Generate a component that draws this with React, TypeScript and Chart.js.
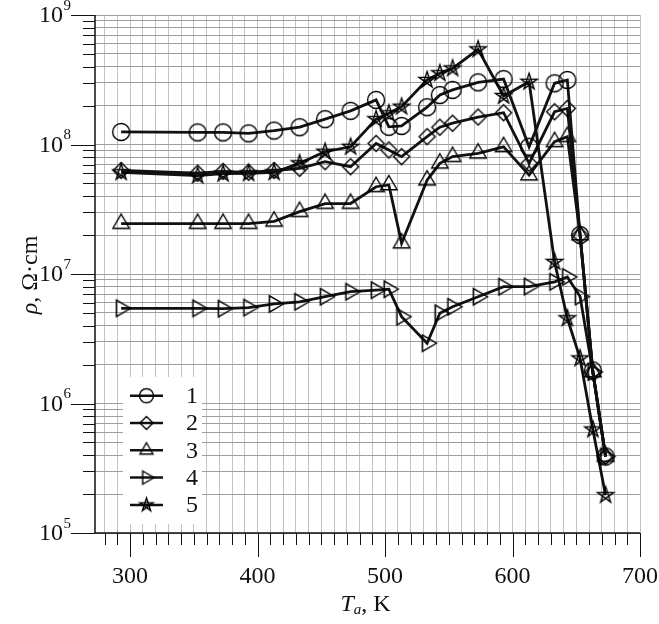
import React, { useEffect, useRef } from 'react';
import { Chart, registerables } from 'chart.js';

Chart.register(...registerables);

// ---------- data ----------
const temps = [293, 353, 373, 393, 413, 433, 453, 473, 493, 503, 513, 533, 543, 553, 573, 593, 613, 633, 643, 653, 663, 673];
const series1 = [1.25e8, 1.24e8, 1.24e8, 1.22e8, 1.28e8, 1.36e8, 1.57e8, 1.82e8, 2.21e8, 1.37e8, 1.39e8, 1.94e8, 2.41e8, 2.64e8, 3.02e8, 3.2e8, 9.6e7, 2.97e8, 3.15e8, 2.0e7, 1.8e6, 3.9e5];
const series2 = [6.3e7, 6.0e7, 6.2e7, 6.1e7, 6.3e7, 6.55e7, 7.37e7, 6.74e7, 1.02e8, 9.07e7, 8.06e7, 1.15e8, 1.36e8, 1.46e8, 1.63e8, 1.76e8, 7.16e7, 1.79e8, 1.9e8, 2.0e7, 1.75e6, 3.9e5];
const series3 = [2.45e7, 2.45e7, 2.45e7, 2.45e7, 2.55e7, 3.03e7, 3.5e7, 3.5e7, 4.72e7, 4.87e7, 1.73e7, 5.3e7, 7.16e7, 8.06e7, 8.55e7, 9.6e7, 5.8e7, 1.05e8, 1.15e8, 2.0e7, 1.75e6, 3.9e5];
const series4 = [5.43e6, 5.43e6, 5.4e6, 5.5e6, 5.87e6, 6.1e6, 6.68e6, 7.3e6, 7.5e6, 7.63e6, 4.68e6, 2.92e6, 4.98e6, 5.58e6, 6.68e6, 7.98e6, 8.0e6, 8.7e6, 9.5e6, 6.7e6, 1.75e6, 3.9e5];
const series5 = [6.1e7, 5.75e7, 5.95e7, 6.0e7, 6.1e7, 7.16e7, 8.8e7, 9.6e7, 1.57e8, 1.74e8, 1.96e8, 3.15e8, 3.55e8, 3.87e8, 5.43e8, 2.37e8, 3.05e8, 1.24e7, 4.55e6, 2.23e6, 6.3e5, 1.96e5];

const seriesLabels = ['1', '2', '3', '4', '5'];
const markerKinds = ['circle', 'diamond', 'triangle', 'triangleRight', 'star'];
const xTickLabels = [300, 400, 500, 600, 700];
const yDecades = [5, 6, 7, 8, 9];
const xMin = 272.5;
const xMax = 700;

const FONT = '"Liberation Serif", "Times New Roman", Times, serif';

// ---------- markers ----------
function makeMarker(kind: string, r: number, lw: number): HTMLCanvasElement {
  const size = Math.ceil(r * 2 + lw * 2 + 4);
  const c = document.createElement('canvas');
  c.width = size;
  c.height = size;
  const ctx = c.getContext('2d')!;
  ctx.translate(size / 2, size / 2);
  ctx.strokeStyle = '#000';
  ctx.lineWidth = lw;
  ctx.lineJoin = 'miter';
  ctx.beginPath();
  if (kind === 'circle') {
    ctx.arc(0, 0, r, 0, Math.PI * 2);
  } else if (kind === 'diamond') {
    ctx.moveTo(0, -r);
    ctx.lineTo(r, 0);
    ctx.lineTo(0, r);
    ctx.lineTo(-r, 0);
    ctx.closePath();
  } else if (kind === 'triangle') {
    ctx.moveTo(0, -r);
    ctx.lineTo(r * 0.866, r * 0.5);
    ctx.lineTo(-r * 0.866, r * 0.5);
    ctx.closePath();
  } else if (kind === 'triangleRight') {
    ctx.moveTo(r, 0);
    ctx.lineTo(-r * 0.5, r * 0.866);
    ctx.lineTo(-r * 0.5, -r * 0.866);
    ctx.closePath();
  } else if (kind === 'star') {
    for (let i = 0; i < 5; i++) {
      const a = (-90 + 144 * i) * Math.PI / 180;
      const px = r * Math.cos(a);
      const py = r * Math.sin(a);
      if (i === 0) ctx.moveTo(px, py);
      else ctx.lineTo(px, py);
    }
    ctx.closePath();
  }
  ctx.stroke();
  return c;
}

const plotMarkerSize: Record<string, number> = { circle: 8.5, diamond: 8, triangle: 9.5, triangleRight: 9.5, star: 8.5 };
const legendMarkerSize: Record<string, number> = { circle: 7, diamond: 6.5, triangle: 7.5, triangleRight: 7.5, star: 7 };

function drawPieces(ctx: CanvasRenderingContext2D, pieces: { t: string; f: string; dy: number }[], cx: number, cy: number) {
  let total = 0;
  const widths = pieces.map((p) => {
    ctx.font = p.f;
    const w = ctx.measureText(p.t).width;
    total += w;
    return w;
  });
  let x = cx - total / 2;
  ctx.textAlign = 'left';
  ctx.textBaseline = 'middle';
  pieces.forEach((p, i) => {
    ctx.font = p.f;
    ctx.fillText(p.t, x, cy + p.dy);
    x += widths[i];
  });
}

export default function App() {
  const ref = useRef<HTMLCanvasElement | null>(null);

  useEffect(() => {
    if (!ref.current) return;
    const allSeries = [series1, series2, series3, series4, series5];
    const plotMarkers = markerKinds.map((k) => makeMarker(k, plotMarkerSize[k], 1.4));
    const legendMarkers = markerKinds.map((k) => makeMarker(k, legendMarkerSize[k], 1.4));

    const datasets = allSeries.map((s, i) => ({
      label: seriesLabels[i],
      data: temps.map((t, j) => ({ x: t, y: s[j] })),
      borderColor: '#111',
      borderWidth: 2.8,
      backgroundColor: 'rgba(0,0,0,0)',
      pointStyle: plotMarkers[i] as any,
      pointRadius: 8,
      pointBorderColor: '#111',
      pointBackgroundColor: 'rgba(0,0,0,0)',
      tension: 0,
      fill: false,
    }));

    const decorPlugin = {
      id: 'decor',
      afterDraw(chart: any) {
        const { ctx, chartArea: a } = chart;
        const xs = chart.scales.x;
        const ys = chart.scales.y;
        ctx.save();

        // legend box
        const lx = a.left + 28;
        const ly = a.top + 362;
        ctx.fillStyle = '#ffffff';
        ctx.fillRect(lx, ly, 79, 147);
        seriesLabels.forEach((lab, i) => {
          const cy = a.top + 380.7 + i * 27.3;
          ctx.strokeStyle = '#111';
          ctx.lineWidth = 2.5;
          ctx.beginPath();
          ctx.moveTo(a.left + 35, cy);
          ctx.lineTo(a.left + 68, cy);
          ctx.stroke();
          const m = legendMarkers[i];
          ctx.drawImage(m, a.left + 51.5 - m.width / 2, cy - m.height / 2);
          ctx.fillStyle = '#111';
          ctx.font = '24px ' + FONT;
          ctx.textAlign = 'left';
          ctx.textBaseline = 'middle';
          ctx.fillText(lab, a.left + 91, cy + 1);
        });

        // axis lines
        ctx.strokeStyle = '#111';
        ctx.lineWidth = 1.5;
        ctx.beginPath();
        ctx.moveTo(a.left, a.top);
        ctx.lineTo(a.left, a.bottom);
        ctx.lineTo(a.right, a.bottom);
        ctx.stroke();

        // x ticks
        ctx.lineWidth = 1;
        for (let v = 280; v <= 700; v += 10) {
          const px = Math.round(xs.getPixelForValue(v)) + 0.5;
          const len = v % 100 === 0 ? 24 : 12;
          ctx.beginPath();
          ctx.moveTo(px, a.bottom);
          ctx.lineTo(px, a.bottom + len);
          ctx.stroke();
        }
        ctx.fillStyle = '#111';
        ctx.font = '24px ' + FONT;
        ctx.textAlign = 'center';
        ctx.textBaseline = 'middle';
        xTickLabels.forEach((v) => {
          ctx.fillText(String(v), xs.getPixelForValue(v), a.bottom + 44);
        });

        // y ticks
        yDecades.forEach((n) => {
          for (let k = 1; k <= 9; k++) {
            const v = k * Math.pow(10, n);
            const py = Math.round(ys.getPixelForValue(v)) + 0.5;
            const len = k === 1 ? 24 : 12;
            ctx.beginPath();
            ctx.moveTo(a.left - len, py);
            ctx.lineTo(a.left, py);
            ctx.stroke();
            if (n === 9) break;
          }
          const py = ys.getPixelForValue(Math.pow(10, n));
          ctx.textBaseline = 'middle';
          ctx.textAlign = 'right';
          ctx.font = '15px ' + FONT;
          const sup = String(n);
          const sw = ctx.measureText(sup).width;
          const rx = a.left - 24;
          ctx.fillText(sup, rx, py - 9);
          ctx.font = '24px ' + FONT;
          ctx.fillText('10', rx - sw - 0.5, py + 1);
        });

        // axis titles
        ctx.fillStyle = '#111';
        drawPieces(ctx, [
          { t: 'T', f: 'italic 24px ' + FONT, dy: 0 },
          { t: 'a', f: 'italic 15px ' + FONT, dy: 5 },
          { t: ', K', f: '24px ' + FONT, dy: 0 },
        ], (a.left + a.right) / 2 - 2, a.bottom + 72);

        ctx.save();
        ctx.translate(a.left - 64, (a.top + a.bottom) / 2 + 1);
        ctx.rotate(-Math.PI / 2);
        drawPieces(ctx, [
          { t: 'ρ', f: 'italic 24px ' + FONT, dy: 0 },
          { t: ', Ω·cm', f: '24px ' + FONT, dy: 0 },
        ], 0, 0);
        ctx.restore();

        ctx.restore();
      },
    };

    const chart = new Chart(ref.current, {
      type: 'line',
      data: { datasets: datasets as any },
      options: {
        animation: false,
        responsive: false,
        maintainAspectRatio: false,
        layout: { padding: { top: 15, right: 19, left: 0, bottom: 0 } },
        plugins: {
          legend: { display: false },
          tooltip: { enabled: false },
        },
        scales: {
          x: {
            type: 'linear',
            min: xMin,
            max: xMax,
            afterBuildTicks: (scale: any) => {
              const t: any[] = [];
              for (let v = 280; v <= 700; v += 10) t.push({ value: v });
              scale.ticks = t;
            },
            afterFit: (scale: any) => {
              scale.height = 91;
            },
            ticks: { display: false },
            grid: { color: '#c2c2c2', lineWidth: 1, drawTicks: false },
            border: { display: false },
          },
          y: {
            type: 'logarithmic',
            min: 1e5,
            max: 1e9,
            afterBuildTicks: (scale: any) => {
              const t: any[] = [];
              for (let n = 5; n <= 8; n++) {
                for (let k = 1; k <= 9; k++) t.push({ value: k * Math.pow(10, n) });
              }
              t.push({ value: 1e9 });
              scale.ticks = t;
            },
            afterFit: (scale: any) => {
              scale.width = 95;
            },
            ticks: { display: false },
            grid: { color: '#9e9e9e', lineWidth: 1, drawTicks: false },
            border: { display: false },
          },
        },
      },
      plugins: [decorPlugin],
    });

    let alive = true;
    const fonts: any = (document as any).fonts;
    if (fonts && fonts.load) {
      Promise.all([
        fonts.load('24px "Liberation Serif"'),
        fonts.load('italic 24px "Liberation Serif"'),
      ]).then(() => {
        if (alive) chart.update();
      }).catch(() => {});
    }

    return () => {
      alive = false;
      chart.destroy();
    };
  }, []);

  return (
    <div style={{ position: 'absolute', left: 0, top: 0, width: 659, height: 624 }}>
      <canvas ref={ref} width={659} height={624} style={{ display: 'block' }} />
    </div>
  );
}
